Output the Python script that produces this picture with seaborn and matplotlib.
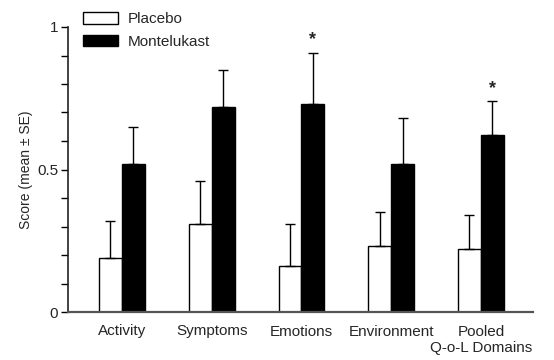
import matplotlib
matplotlib.use("Agg")
import matplotlib.pyplot as plt
import seaborn as sns
import pandas as pd
import numpy as np

categories = ["Activity", "Symptoms", "Emotions", "Environment", "Pooled\nQ-o-L Domains"]
groups = ["Placebo", "Montelukast"]
placebo = [0.19, 0.31, 0.16, 0.23, 0.22]
placebo_se = [0.13, 0.15, 0.15, 0.12, 0.12]
monte = [0.52, 0.72, 0.73, 0.52, 0.62]
monte_se = [0.13, 0.13, 0.18, 0.16, 0.12]
significant = [False, False, True, False, True]

sns.set_theme(style="white")
plt.rcParams['font.family'] = ['Liberation Sans', 'DejaVu Sans']

df = pd.DataFrame({
    "category": categories * 2,
    "group": [groups[0]] * 5 + [groups[1]] * 5,
    "score": placebo + monte,
})

fig = plt.figure(figsize=(5.54, 3.6), dpi=100)
ax = fig.add_axes([68/554, 1-312/360, (533-68)/554, 285/360])
sns.barplot(data=df, x="category", y="score", hue="group", order=categories,
            hue_order=groups, palette=["white", "black"], edgecolor="black",
            linewidth=1.0, width=0.51, errorbar=None, ax=ax, legend=True)

# error bars (upward only) from bar positions
patches = list(ax.patches)[:10]
errs = placebo_se + monte_se
vals = placebo + monte
for p, v, e in zip(patches, vals, errs):
    cx = p.get_x() + p.get_width() / 2
    ax.errorbar(cx, v, yerr=[[0], [e]], fmt="none", ecolor="black",
                elinewidth=1.0, capsize=3.6, capthick=1.0, zorder=1)
# significance stars
for i, s in enumerate(significant):
    if s:
        p = patches[5 + i]
        cx = p.get_x() + p.get_width() / 2
        ax.text(cx, monte[i] + monte_se[i] + 0.015, "*", ha="center", va="bottom",
                fontsize=13, fontweight="bold")

ax.set_ylim(0, 1)
ax.set_xlim(-0.6, 4.58)
ax.set_yticks(np.arange(0, 1.01, 0.1))
ax.set_yticklabels(["0", "", "", "", "", "0.5", "", "", "", "", "1"])
ax.tick_params(axis="y", left=True, length=5, width=1, labelsize=11, pad=2, color="black")
ax.tick_params(axis="x", bottom=False, labelsize=11, pad=3)
ax.set_xlabel("")
ax.set_ylabel("Score (mean \u00b1 SE)", fontsize=10, labelpad=3)
for s in ["top", "right"]:
    ax.spines[s].set_visible(False)
ax.spines["left"].set_color("#222222")
ax.spines["left"].set_linewidth(1.2)
ax.spines["bottom"].set_color("#555555")
ax.spines["bottom"].set_linewidth(1.6)

leg = ax.legend(loc="upper left", bbox_to_anchor=(15/465, 1 + 15/285), frameon=False,
                fontsize=11, handlelength=2.3, handleheight=0.8, labelspacing=0.55,
                handletextpad=0.65, borderaxespad=0, borderpad=0)
fig.savefig("out.png", dpi=100)
